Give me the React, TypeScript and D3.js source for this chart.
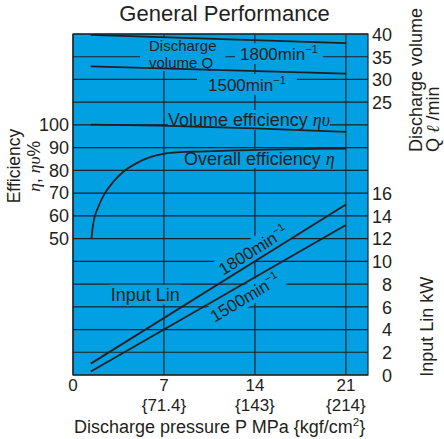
import React, { useEffect, useRef } from "react";
import * as d3 from "d3";

// ---- axis ticks ----
const pressureTicks = [0, 7, 14, 21];
const pressureKgfLabels = ["", "{71.4}", "{143}", "{214}"];
const efficiencyTicks = [50, 60, 70, 80, 90, 100];
const dischargeTicks = [25, 30, 35, 40];
const powerTicks = [0, 2, 4, 6, 8, 10, 12, 14, 16];

// ---- series ----
const dischargePressure = [1.37, 21];
const discharge1800 = [39.8, 38.0];
const discharge1500 = [32.9, 31.3];

const volEffPressure = [1.37, 6.7, 14, 21];
const volEff = [100.1, 99.7, 98.5, 96.9];

const overallPressure = [1.42, 1.56, 1.95, 2.46, 3.1, 3.87, 4.9, 5.93, 6.95, 8.24, 9.8, 12, 15, 18, 21];
const overallEff = [50, 56.7, 64, 70, 75, 79.4, 83.2, 85.8, 87.3, 88, 88.3, 88.7, 89.1, 89.4, 89.6];

const powerPressure = [1.37, 21];
const power1800 = [1.0, 15.0];
const power1500 = [0.3, 13.2];

const W = 444;
const H = 439;
const FILL = "#00a0e3";
const INK = "#231f20";
const GRID = "#1c2228";
const SANS = "'Liberation Sans', Arial, Helvetica, sans-serif";
const SERIF = "'Liberation Serif', 'DejaVu Serif', serif";

type Seg = { t: string; it?: boolean; sup?: boolean };

export default function App() {
  const ref = useRef<SVGSVGElement | null>(null);

  useEffect(() => {
    document.body.style.margin = "0";
    const svg = d3.select(ref.current);
    svg.selectAll("*").remove();

    const left = 73, right = 368, top = 34, bottom = 375;
    const x = d3.scaleLinear().domain([0, 22.7]).range([left, right]);
    const yPow = d3.scaleLinear().domain([0, 30]).range([bottom, top]);
    const yEff = d3.scaleLinear().domain([-10, 140]).range([bottom, top]);
    const yQ = d3.scaleLinear().domain([-35, 40]).range([bottom, top]);

    const root = svg.append("g").attr("font-family", SANS).attr("fill", INK);

    // title
    root.append("text").attr("x", 224.5).attr("y", 20.5).attr("text-anchor", "middle")
      .attr("font-size", 22).text("General Performance");

    // plot background
    root.append("rect").attr("x", left).attr("y", top).attr("width", right - left)
      .attr("height", bottom - top).attr("fill", FILL);

    const gridLayer = root.append("g").attr("stroke", GRID).attr("stroke-width", 1.2);
    const rectLayer = root.append("g");
    const dataLayer = root.append("g").attr("fill", "none").attr("stroke", INK).attr("stroke-width", 1.8);
    const textLayer = root.append("g");

    // horizontal grid
    const gridVals = d3.range(0, 31, 2);
    gridLayer.selectAll("line.h").data(gridVals).join("line")
      .attr("x1", left).attr("x2", right)
      .attr("y1", (d) => yPow(d)).attr("y2", (d) => yPow(d));
    // vertical grid
    gridLayer.selectAll("line.v").data(pressureTicks).join("line").attr("class", "v")
      .attr("x1", (d) => x(d)).attr("x2", (d) => x(d)).attr("y1", top).attr("y2", bottom);
    gridLayer.append("rect").attr("x", left).attr("y", top).attr("width", right - left)
      .attr("height", bottom - top).attr("fill", "none");

    // data lines
    const lineQ = d3.line<number>().x((_, i) => x(dischargePressure[i])).y((d) => yQ(d));
    dataLayer.append("path").attr("d", lineQ(discharge1800));
    dataLayer.append("path").attr("d", lineQ(discharge1500));

    const lineVol = d3.line<number>().x((_, i) => x(volEffPressure[i])).y((d) => yEff(d))
      .curve(d3.curveMonotoneX);
    dataLayer.append("path").attr("d", lineVol(volEff));

    const lineOverall = d3.line<number>().x((_, i) => x(overallPressure[i])).y((d) => yEff(d))
      .curve(d3.curveMonotoneX);
    dataLayer.append("path").attr("d", lineOverall(overallEff));

    const linePow = d3.line<number>().x((_, i) => x(powerPressure[i])).y((d) => yPow(d));
    dataLayer.append("path").attr("d", linePow(power1800));
    dataLayer.append("path").attr("d", linePow(power1500));

    // text helpers
    const addSegs = (sel: any, segs: Seg[], size: number) => {
      let raised = false;
      segs.forEach((s) => {
        const ts = sel.append("tspan").text(s.t);
        if (s.it) ts.attr("font-family", SERIF).attr("font-style", "italic");
        if (s.sup) {
          ts.attr("font-size", size * 0.65);
          if (!raised) { ts.attr("dy", -size * 0.4); raised = true; }
        } else if (raised) {
          ts.attr("dy", size * 0.4);
          raised = false;
        }
      });
    };

    const label = (
      cx: number, cy: number, angle: number,
      lines: { y: number; segs: Seg[] }[], size: number,
      anchor: string, padX: number, padY: number
    ) => {
      const tf = `translate(${cx},${cy}) rotate(${angle})`;
      const tg = textLayer.append("g").attr("transform", tf);
      const t = tg.append("text").attr("font-size", size).attr("text-anchor", anchor);
      lines.forEach((ln) => {
        const tl = t.append("tspan").attr("x", 0).attr("y", ln.y);
        addSegs(tl, ln.segs, size);
      });
      const bb = (t.node() as SVGTextElement).getBBox();
      rectLayer.append("g").attr("transform", tf).append("rect")
        .attr("x", bb.x - padX).attr("y", bb.y - padY)
        .attr("width", bb.width + 2 * padX).attr("height", bb.height + 2 * padY)
        .attr("fill", FILL);
    };

    const minus1: Seg = { t: "\u22121", sup: true };

    label(149, 51, 0, [
      { y: 0, segs: [{ t: "Discharge" }] },
      { y: 17, segs: [{ t: "volume Q" }] },
    ], 15, "start", 9, 0);
    label(240, 60, 0, [{ y: 0, segs: [{ t: "1800min" }, minus1] }], 17, "start", 5, 0);
    label(208, 90.7, 0, [{ y: 0, segs: [{ t: "1500min" }, minus1] }], 17, "start", 11, 0);
    label(168, 126, 0, [{ y: 0, segs: [{ t: "Volume efficiency " }, { t: "\u03b7\u03c5", it: true }] }], 18, "start", 0, 0);
    label(184, 165, 0, [{ y: 0, segs: [{ t: "Overall efficiency " }, { t: "\u03b7", it: true }] }], 18, "start", 1, -1);
    label(110.7, 300.7, 0, [{ y: 0, segs: [{ t: "Input Lin" }] }], 18, "start", 1, 0);
    label(253, 250, -32, [{ y: 6, segs: [{ t: "1800min" }, minus1] }], 17, "middle", 4, 0);
    label(245, 297.5, -31, [{ y: 6, segs: [{ t: "1500min" }, minus1] }], 17, "middle", 4, 0);

    // left axis ticks
    root.append("g").attr("font-size", 18).attr("text-anchor", "end")
      .selectAll("text").data(efficiencyTicks).join("text")
      .attr("x", 69).attr("y", (d) => yEff(d) + 6.3).text((d) => d);
    // right axis ticks
    const rt = root.append("g").attr("font-size", 18).attr("text-anchor", "end");
    rt.selectAll("text.q").data(dischargeTicks).join("text").attr("class", "q")
      .attr("x", 392).attr("y", (d) => yQ(d) + 6.8).text((d) => d);
    rt.selectAll("text.p").data(powerTicks).join("text").attr("class", "p")
      .attr("x", 392).attr("y", (d) => yPow(d) + 6.8).text((d) => d);
    // bottom ticks
    const bt = root.append("g").attr("font-size", 17).attr("text-anchor", "middle");
    bt.selectAll("text.a").data(pressureTicks).join("text").attr("class", "a")
      .attr("x", (d) => x(d)).attr("y", 391).text((d) => d);
    bt.selectAll("text.b").data(pressureTicks).join("text").attr("class", "b")
      .attr("x", (d) => x(d)).attr("y", 411).text((_, i) => pressureKgfLabels[i]);

    // axis titles
    const xt = root.append("text").attr("x", 74).attr("y", 433).attr("font-size", 18);
    addSegs(xt, [{ t: "Discharge pressure P MPa {kgf/cm" }, { t: "2", sup: true }, { t: "}" }], 18);

    const vtitle = (bx: number, by: number, segs: Seg[], size: number) => {
      const t = root.append("text").attr("transform", `translate(${bx},${by}) rotate(-90)`)
        .attr("font-size", size);
      addSegs(t, segs, size);
    };
    vtitle(20, 203.3, [{ t: "Efficiency" }], 17.5);
    vtitle(39.5, 191.7, [{ t: "\u03b7", it: true }, { t: ", " }, { t: "\u03b7\u03c5", it: true }, { t: "%" }], 17.5);
    vtitle(421.7, 152, [{ t: "Discharge volume" }], 18);
    vtitle(439, 152, [{ t: "Q  " }, { t: "\u2113", it: true }, { t: " /min" }], 18);
    vtitle(433, 376.7, [{ t: "Input Lin kW" }], 18);
  }, []);

  return (
    <svg
      ref={ref}
      width={W}
      height={H}
      viewBox={`0 0 ${W} ${H}`}
      style={{ position: "absolute", left: 0, top: 0, background: "#fff" }}
    />
  );
}
